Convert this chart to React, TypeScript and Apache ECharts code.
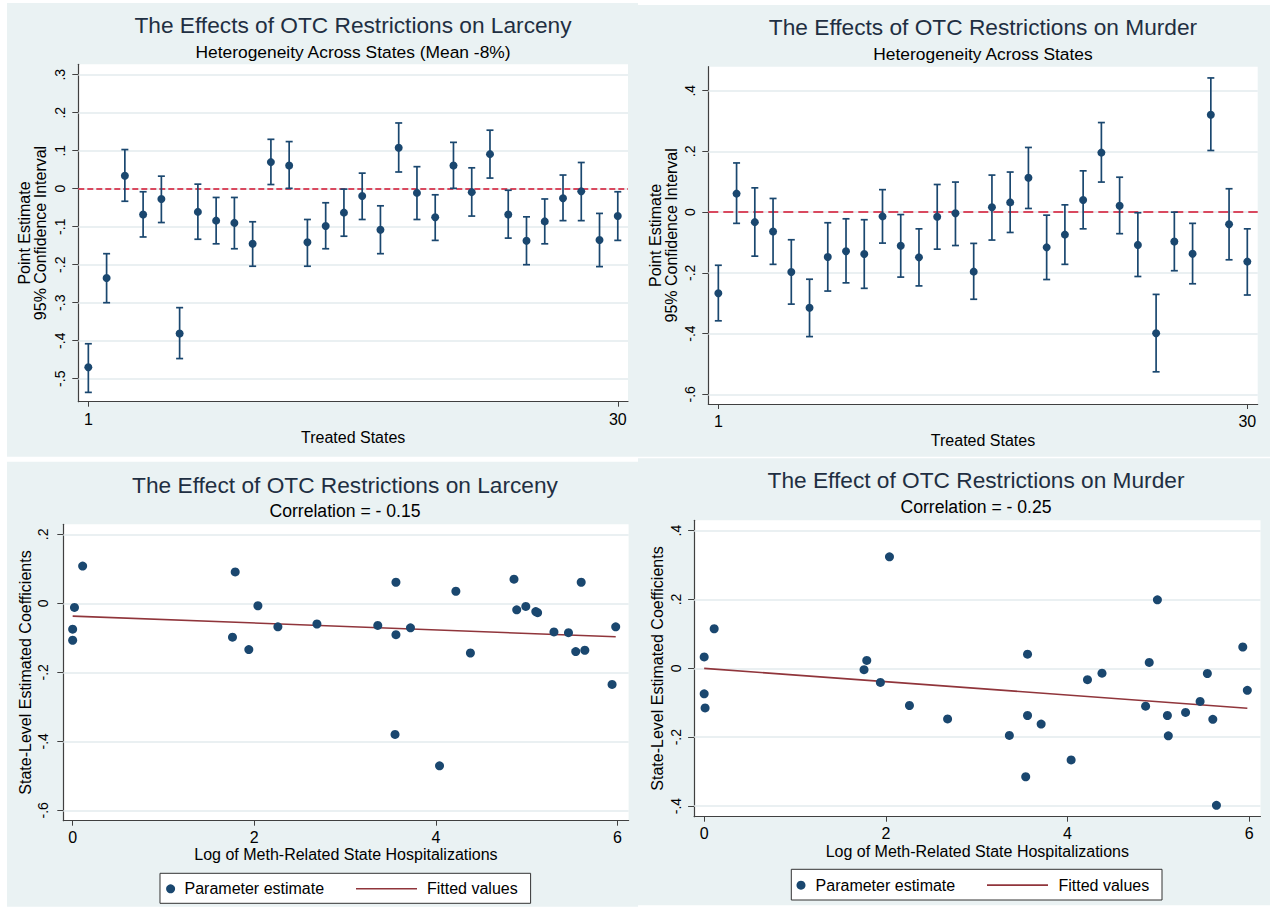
import React, { useEffect, useRef } from "react";
import * as echarts from "echarts";

// ---------- DATA ----------
const states = [1, 2, 3, 4, 5, 6, 7, 8, 9, 10, 11, 12, 13, 14, 15, 16, 17, 18, 19, 20, 21, 22, 23, 24, 25, 26, 27, 28, 29, 30];
const stateTicks = [1, 30];

const larcenyEst = [-0.470, -0.235, 0.034, -0.068, -0.027, -0.381, -0.061, -0.084, -0.090, -0.145, 0.070, 0.061, -0.141, -0.098, -0.063, -0.019, -0.108, 0.108, -0.011, -0.075, 0.061, -0.009, 0.091, -0.068, -0.137, -0.086, -0.025, -0.007, -0.135, -0.072];
const larcenyHi = [-0.408, -0.171, 0.103, -0.008, 0.033, -0.313, 0.012, -0.023, -0.023, -0.087, 0.130, 0.124, -0.081, -0.037, -0.001, 0.041, -0.045, 0.173, 0.058, -0.016, 0.122, 0.055, 0.154, -0.004, -0.074, -0.027, 0.036, 0.069, -0.065, -0.008];
const larcenyLo = [-0.536, -0.300, -0.033, -0.127, -0.089, -0.447, -0.133, -0.145, -0.158, -0.204, 0.011, 0.001, -0.204, -0.158, -0.125, -0.081, -0.171, 0.044, -0.081, -0.136, 0.001, -0.072, 0.028, -0.130, -0.200, -0.145, -0.084, -0.084, -0.205, -0.136];
const larcenyTicks = [-0.5, -0.4, -0.3, -0.2, -0.1, 0, 0.1, 0.2, 0.3];

const murderEst = [-0.267, 0.061, -0.033, -0.064, -0.197, -0.315, -0.148, -0.129, -0.138, -0.014, -0.111, -0.149, -0.015, -0.004, -0.196, 0.016, 0.032, 0.113, -0.116, -0.074, 0.040, 0.196, 0.021, -0.108, -0.399, -0.097, -0.137, 0.321, -0.040, -0.163];
const murderHi = [-0.175, 0.162, 0.080, 0.045, -0.091, -0.221, -0.035, -0.022, -0.025, 0.074, -0.008, -0.055, 0.091, 0.099, -0.103, 0.122, 0.132, 0.213, -0.010, 0.024, 0.136, 0.295, 0.115, -0.002, -0.271, 0.000, -0.037, 0.442, 0.077, -0.055];
const murderLo = [-0.358, -0.037, -0.145, -0.172, -0.303, -0.410, -0.260, -0.233, -0.251, -0.102, -0.214, -0.243, -0.122, -0.110, -0.287, -0.092, -0.067, 0.012, -0.222, -0.172, -0.055, 0.099, -0.071, -0.212, -0.526, -0.193, -0.236, 0.203, -0.157, -0.273];
const murderTicks = [-0.6, -0.4, -0.2, 0, 0.2, 0.4];

const hospLarceny = [0.0, 0.0, 0.02, 0.11, 1.76, 1.79, 1.94, 2.04, 2.26, 2.69, 3.36, 3.55, 3.56, 3.56, 3.72, 4.04, 4.22, 4.38, 4.86, 4.89, 4.99, 5.10, 5.12, 5.30, 5.46, 5.54, 5.60, 5.64, 5.94, 5.98];
const coefLarceny = [-0.075, -0.107, -0.012, 0.108, -0.098, 0.091, -0.134, -0.007, -0.068, -0.060, -0.064, -0.380, 0.061, -0.091, -0.071, -0.471, 0.035, -0.144, 0.070, -0.019, -0.009, -0.024, -0.027, -0.083, -0.085, -0.140, 0.061, -0.136, -0.235, -0.068];
const fitXLarceny = [0, 5.98];
const fitYLarceny = [-0.037, -0.097];
const coefLarcenyTicks = [-0.6, -0.4, -0.2, 0, 0.2];

const hospMurder = [0.0, 0.0, 0.01, 0.11, 1.76, 1.79, 1.94, 2.04, 2.26, 2.68, 3.36, 3.54, 3.56, 3.56, 3.71, 4.04, 4.22, 4.38, 4.86, 4.90, 4.99, 5.10, 5.11, 5.30, 5.46, 5.54, 5.60, 5.64, 5.93, 5.98];
const coefMurder = [0.033, -0.074, -0.115, 0.115, -0.004, 0.023, -0.041, 0.324, -0.108, -0.147, -0.195, -0.315, 0.041, -0.137, -0.162, -0.266, -0.033, -0.014, -0.110, 0.017, 0.199, -0.137, -0.196, -0.128, -0.096, -0.015, -0.148, -0.398, 0.062, -0.064];
const fitXMurder = [0, 5.98];
const fitYMurder = [0.0, -0.116];
const coefMurderTicks = [-0.4, -0.2, 0, 0.2, 0.4];

const hospTicks = [0, 2, 4, 6];

// ---------- STYLE ----------
const FONT = "'Liberation Sans', Arial, Helvetica, sans-serif";
const NAVY = "#1a476f";
const MAROON = "#90353b";
const RED = "#d3122f";
const GRIDC = "#e3ebee";
const AXISC = "#404040";
const BG = "#eaf2f3";
const TITLEC = "#1f2f42";

const stataFmt = (v: number) => {
  const r = Math.round(v * 10) / 10;
  if (r === 0) return "0";
  const s = Math.abs(r).toString().replace(/^0/, "");
  return (r < 0 ? "-" : "") + s;
};

function grid(left: number, top: number, right: number, bottom: number) {
  return { left, top, width: right - left, height: bottom - top, show: true, backgroundColor: "#ffffff", borderWidth: 0 };
}

function xAx(gridIndex: number, min: number, max: number, ticks: number[], name: string, nameGap: number, margin: number) {
  return {
    type: "value", gridIndex, min, max, name, nameLocation: "middle", nameGap,
    nameTextStyle: { fontFamily: FONT, fontSize: 16, color: "#000", lineHeight: 16 },
    axisLine: { show: true, onZero: false, lineStyle: { color: AXISC, width: 1.2 } },
    axisTick: { show: true, length: 5, customValues: ticks, lineStyle: { color: AXISC, width: 1 } },
    axisLabel: { customValues: ticks, margin, fontFamily: FONT, fontSize: 16, color: "#000", formatter: (v: number) => stataFmt(v) },
    splitLine: { show: false },
  };
}

function yAx(gridIndex: number, min: number, max: number, ticks: number[], name: string, nameGap: number, margin: number) {
  return {
    type: "value", gridIndex, min, max, name, nameLocation: "middle", nameGap,
    nameTextStyle: { fontFamily: FONT, fontSize: 16, color: "#000", lineHeight: 16 },
    axisLine: { show: true, onZero: false, lineStyle: { color: AXISC, width: 1.2 } },
    axisTick: { show: true, length: 6, customValues: ticks, lineStyle: { color: AXISC, width: 1 } },
    axisLabel: { customValues: ticks, rotate: 90, margin, fontFamily: FONT, fontSize: 14, color: "#000", formatter: (v: number) => stataFmt(v) },
    splitLine: { show: false },
  };
}

function gridLines(ticks: number[], zeroDash: number[] | null) {
  const data: any[] = ticks.map((v) => ({ yAxis: v }));
  if (zeroDash) data.push({ yAxis: 0, lineStyle: { color: RED, type: zeroDash, width: 1.6 } });
  return {
    silent: true, symbol: ["none", "none"], z: 1,
    label: { show: false },
    lineStyle: { color: GRIDC, width: 1.5, type: "solid" },
    emphasis: { disabled: true },
    data,
  };
}

function errBars(idx: number, lo: number[], hi: number[], ticks: number[], dash: number[]) {
  return {
    type: "custom", xAxisIndex: idx, yAxisIndex: idx, z: 9, silent: true,
    data: states.map((s, i) => [s, lo[i], hi[i]]),
    encode: { x: 0, y: [1, 2] },
    renderItem: (params: any, api: any) => {
      const x = api.value(0);
      const a = api.coord([x, api.value(1)]);
      const b = api.coord([x, api.value(2)]);
      const w = 3.5;
      const st = { stroke: NAVY, lineWidth: 1.7 };
      return {
        type: "group",
        children: [
          { type: "line", shape: { x1: a[0], y1: a[1], x2: b[0], y2: b[1] }, style: st },
          { type: "line", shape: { x1: a[0] - w, y1: a[1], x2: a[0] + w, y2: a[1] }, style: st },
          { type: "line", shape: { x1: b[0] - w, y1: b[1], x2: b[0] + w, y2: b[1] }, style: st },
        ],
      };
    },
    markLine: gridLines(ticks, dash),
  };
}

function legendGraphic(x0: number, x1: number, y0: number, y1: number, cx: number, t1: number, l0: number, l1: number, t2: number) {
  const cy = (y0 + y1) / 2 + 0.5;
  return [
    { type: "rect", shape: { x: x0, y: y0, width: x1 - x0, height: y1 - y0 }, style: { fill: "#fff", stroke: "#333", lineWidth: 1 }, silent: true },
    { type: "circle", shape: { cx, cy, r: 4.5 }, style: { fill: NAVY }, silent: true },
    { type: "text", x: t1, y: cy, style: { text: "Parameter estimate", fill: "#000", font: `16px ${FONT}`, textAlign: "left", textVerticalAlign: "middle" }, silent: true },
    { type: "line", shape: { x1: l0, y1: cy, x2: l1, y2: cy }, style: { stroke: MAROON, lineWidth: 1.6 }, silent: true },
    { type: "text", x: t2, y: cy, style: { text: "Fitted values", fill: "#000", font: `16px ${FONT}`, textAlign: "left", textVerticalAlign: "middle" }, silent: true },
  ];
}

function titleItem(text: string, cx: number, cy: number, size: number, color: string) {
  return { text, left: cx, top: cy - size / 2, textAlign: "center", padding: 0, textStyle: { fontFamily: FONT, fontSize: size, fontWeight: "normal", color, lineHeight: size } };
}

export default function App() {
  const ref = useRef<HTMLDivElement>(null);
  useEffect(() => {
    if (!ref.current) return;
    const chart = echarts.init(ref.current, undefined, { renderer: "svg" });
    const option: any = {
      animation: false,
      backgroundColor: "#ffffff",
      title: [
        titleItem("The Effects of OTC Restrictions on Larceny", 353, 25, 22.7, TITLEC),
        titleItem("Heterogeneity Across States (Mean -8%)", 353, 51.5, 17.4, "#000"),
        titleItem("The Effects of OTC Restrictions on Murder", 983, 27.2, 22.7, TITLEC),
        titleItem("Heterogeneity Across States", 983, 54, 17.4, "#000"),
        titleItem("The Effect of OTC Restrictions on Larceny", 345, 485, 22.7, TITLEC),
        titleItem("Correlation = - 0.15", 345, 511.3, 17.6, "#000"),
        titleItem("The Effect of OTC Restrictions on Murder", 976, 480, 22.7, TITLEC),
        titleItem("Correlation = - 0.25", 976, 507.3, 17.6, "#000"),
      ],
      grid: [
        grid(78.3, 64.3, 628, 401.7),
        grid(708.3, 66.7, 1257.7, 404),
        grid(63.3, 524.3, 628.6, 820.7),
        grid(694.1, 520.3, 1260.5, 816.7),
      ],
      xAxis: [
        xAx(0, 0.45, 30.56, stateTicks, "Treated States", 27.8, 10),
        xAx(1, 0.45, 30.57, stateTicks, "Treated States", 28, 9.7),
        xAx(2, -0.103, 6.122, hospTicks, "Log of Meth-Related State Hospitalizations", 25.3, 8.3),
        xAx(3, -0.111, 6.125, hospTicks, "Log of Meth-Related State Hospitalizations", 26.3, 8.6),
      ],
      yAxis: [
        yAx(0, -0.5605, 0.3274, larcenyTicks, "Point Estimate\n95% Confidence Interval", 29.5, 11),
        yAx(1, -0.632, 0.479, murderTicks, "Point Estimate\n95% Confidence Interval", 28.8, 11.6),
        yAx(2, -0.630, 0.229, coefLarcenyTicks, "State-Level Estimated Coefficients", 30.3, 13.4),
        yAx(3, -0.431, 0.430, coefMurderTicks, "State-Level Estimated Coefficients", 28.8, 11.6),
      ],
      series: [
        errBars(0, larcenyLo, larcenyHi, larcenyTicks, [6, 3]),
        {
          type: "scatter", name: "Point estimate", xAxisIndex: 0, yAxisIndex: 0, z: 10, silent: true,
          symbol: "circle", symbolSize: 8, itemStyle: { color: NAVY, opacity: 1 },
          data: states.map((s, i) => [s, larcenyEst[i]]),
        },
        errBars(1, murderLo, murderHi, murderTicks, [10, 5]),
        {
          type: "scatter", name: "Point estimate", xAxisIndex: 1, yAxisIndex: 1, z: 10, silent: true,
          symbol: "circle", symbolSize: 8, itemStyle: { color: NAVY, opacity: 1 },
          data: states.map((s, i) => [s, murderEst[i]]),
        },
        {
          type: "line", name: "Fitted values", xAxisIndex: 2, yAxisIndex: 2, z: 8, silent: true,
          showSymbol: false, symbol: "none", lineStyle: { color: MAROON, width: 1.6 },
          data: fitXLarceny.map((x, i) => [x, fitYLarceny[i]]),
          markLine: gridLines(coefLarcenyTicks, null),
        },
        {
          type: "scatter", name: "Parameter estimate", xAxisIndex: 2, yAxisIndex: 2, z: 10, silent: true,
          symbol: "circle", symbolSize: 9, itemStyle: { color: NAVY, opacity: 1 },
          data: hospLarceny.map((x, i) => [x, coefLarceny[i]]),
        },
        {
          type: "line", name: "Fitted values", xAxisIndex: 3, yAxisIndex: 3, z: 8, silent: true,
          showSymbol: false, symbol: "none", lineStyle: { color: MAROON, width: 1.6 },
          data: fitXMurder.map((x, i) => [x, fitYMurder[i]]),
          markLine: gridLines(coefMurderTicks, null),
        },
        {
          type: "scatter", name: "Parameter estimate", xAxisIndex: 3, yAxisIndex: 3, z: 10, silent: true,
          symbol: "circle", symbolSize: 9, itemStyle: { color: NAVY, opacity: 1 },
          data: hospMurder.map((x, i) => [x, coefMurder[i]]),
        },
      ],
      graphic: {
        elements: [
          { type: "rect", z: -10, silent: true, shape: { x: 7, y: 3, width: 631, height: 453.7 }, style: { fill: BG } },
          { type: "rect", z: -10, silent: true, shape: { x: 638, y: 5, width: 632, height: 451.7 }, style: { fill: BG } },
          { type: "rect", z: -10, silent: true, shape: { x: 7, y: 461.7, width: 631, height: 445 }, style: { fill: BG } },
          { type: "rect", z: -10, silent: true, shape: { x: 638, y: 458.3, width: 632, height: 447 }, style: { fill: BG } },
          ...legendGraphic(160, 530.6, 873.3, 903.3, 170.6, 184.5, 356, 417, 427),
          ...legendGraphic(791.3, 1162, 869.3, 900, 801, 815.6, 987, 1048, 1058.5),
        ],
      },
    };
    chart.setOption(option);
    return () => chart.dispose();
  }, []);
  return <div ref={ref} style={{ position: "absolute", left: 0, top: 0, width: 1270, height: 907 }} />;
}
